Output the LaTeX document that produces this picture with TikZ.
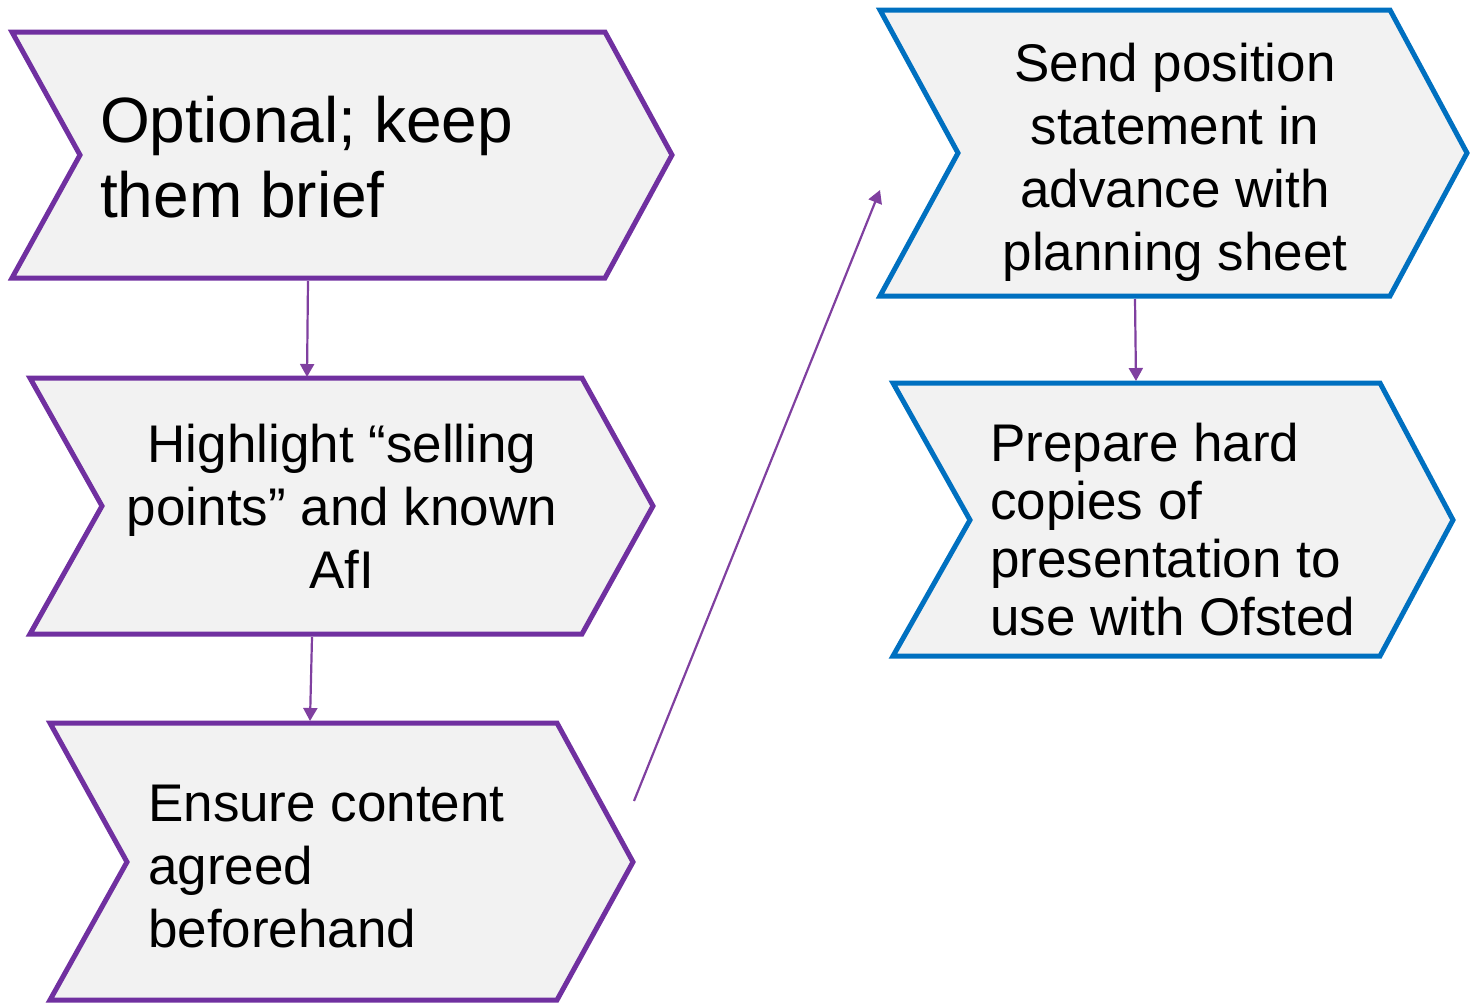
\documentclass[tikz,border=0pt]{standalone}
\usepackage{fontspec}
\setmainfont{Liberation Sans}
\usetikzlibrary{arrows.meta}
\definecolor{purp}{RGB}{112,48,160}
\definecolor{blu}{RGB}{0,112,192}
\definecolor{arr}{RGB}{128,64,160}
\definecolor{boxfill}{RGB}{242,242,242}
\tikzset{
  chev/.style={line width=5pt, fill=boxfill, line join=miter},
  purpchev/.style={chev, draw=purp},
  bluechev/.style={chev, draw=blu},
  txt/.style={inner sep=0pt, font=\fontsize{53}{63}\selectfont},
  link/.style={draw=arr, line width=2.2pt, -{Triangle[length=13pt,width=14pt]}}
}
\begin{document}
\begin{tikzpicture}[x=1pt,y=-1pt]
\useasboundingbox (0,0) rectangle (1470,1004);
% chevrons
\draw[purpchev] (12,32) -- (605,32) -- (672,155) -- (605,278) -- (12,278) -- (80,155) -- cycle;
\draw[purpchev] (30,378) -- (582,378) -- (653,506) -- (582,634) -- (30,634) -- (102,506) -- cycle;
\draw[purpchev] (50,723) -- (557,723) -- (633,862) -- (557,1000) -- (50,1000) -- (127,862) -- cycle;
\draw[bluechev] (880,10) -- (1390,10) -- (1467,153) -- (1390,296) -- (880,296) -- (958,153) -- cycle;
\draw[bluechev] (893,383) -- (1380,383) -- (1453,520) -- (1380,656) -- (893,656) -- (970,520) -- cycle;
% texts (anchored at the baseline of the last line)
\node[txt, font=\fontsize{64}{75}\selectfont, align=left, anchor=base west] (t1) at (100,217) {Optional; keep\\them brief};
\node[txt, align=center, anchor=base] (t2) at (342,588) {Highlight “selling\\points” and known\\AfI};
\node[txt, align=left, anchor=base west] (t3) at (148,947) {Ensure content\\agreed\\beforehand};
\node[txt, align=center, anchor=base] (t4) at (1175,270) {Send position\\statement in\\advance with\\planning sheet};
\node[txt, font=\fontsize{53}{57.7}\selectfont, align=left, anchor=base west] (t5) at (990,635) {Prepare hard\\copies of\\presentation to\\use with Ofsted};
% connector endpoints
\coordinate (a1s) at (308,281);
\coordinate (a1e) at (307,377);
\coordinate (a2s) at (312,637);
\coordinate (a2e) at (310,721);
\coordinate (a3s) at (634,801);
\coordinate (a3e) at (880,190);
\coordinate (a4s) at (1135,299);
\coordinate (a4e) at (1136,381);
\draw[link] (a1s) -- (a1e);
\draw[link] (a2s) -- (a2e);
\draw[link] (a3s) -- (a3e);
\draw[link] (a4s) -- (a4e);
\end{tikzpicture}
\end{document}
